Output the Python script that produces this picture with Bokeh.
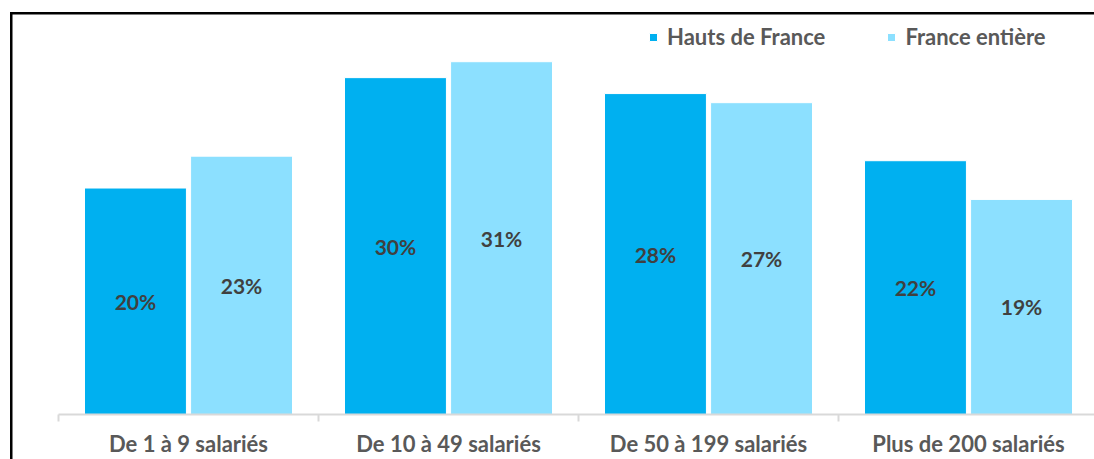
from bokeh.plotting import figure
from bokeh.models import (ColumnDataSource, Range1d, FixedTicker, LinearAxis,
                          Legend, LegendItem)
from bokeh.transform import dodge
from bokeh.core.properties import value
from bokeh.embed import file_html
from bokeh.resources import INLINE

# ---- data ----
categories = ["De 1 à 9 salariés", "De 10 à 49 salariés",
              "De 50 à 199 salariés", "Plus de 200 salariés"]
hauts_de_france = [19.9, 29.6, 28.2, 22.3]
france_entiere = [22.7, 31.0, 27.4, 18.9]
series_names = ["Hauts de France", "France entière"]
series_colors = ["#00B0F0", "#8CE0FF"]

FONT = "Lato"
pos = [i + 0.5 for i in range(len(categories))]
bounds = [float(i) for i in range(len(categories) + 1)]

src = ColumnDataSource(dict(
    x=pos,
    h=hauts_de_france,
    f=france_entiere,
    h_mid=[v / 2 for v in hauts_de_france],
    f_mid=[v / 2 for v in france_entiere],
    h_lab=[f"{round(v)}%" for v in hauts_de_france],
    f_lab=[f"{round(v)}%" for v in france_entiere],
))

x0, x1 = -0.1731, 3.9846
y1 = 35.06

# black frame lines (left and top) drawn as CSS backgrounds of the host element
border_css = ("linear-gradient(#000, #000) 10px 12px / 2.5px 100% no-repeat, "
              "linear-gradient(#000, #000) 10px 12px / 100% 2.5px no-repeat, #fff")

p = figure(width=1094, height=459, output_backend="svg", toolbar_location=None,
           x_range=Range1d(x0, x1), y_range=Range1d(0, y1),
           x_axis_location=None, y_axis_location=None,
           min_border_left=13, min_border_right=0, min_border_top=15,
           min_border_bottom=45,
           styles={"background": border_css})
p.outline_line_color = None
p.grid.visible = False
p.background_fill_color = "white"
p.border_fill_alpha = 0

off = 0.204
bw = 0.392
r_h = p.vbar(x=dodge("x", -off), top="h", width=bw, source=src,
             fill_color=series_colors[0], line_color="white", line_width=1)
r_f = p.vbar(x=dodge("x", off), top="f", width=bw, source=src,
             fill_color=series_colors[1], line_color="white", line_width=1)

for col_y, col_t, d in (("h_mid", "h_lab", -off), ("f_mid", "f_lab", off)):
    p.text(x=dodge("x", d), y=col_y, text=col_t, source=src,
           text_align="center", text_baseline="middle",
           text_font=value(FONT), text_font_style="bold",
           text_font_size="21px", text_color="#404040")

ax = LinearAxis(ticker=FixedTicker(ticks=pos, minor_ticks=bounds),
                bounds=(bounds[0], bounds[-1]),
                major_label_overrides={pos[i]: categories[i] for i in range(len(categories))},
                major_tick_line_color=None, major_tick_out=0, major_tick_in=0,
                minor_tick_out=7, minor_tick_in=0,
                minor_tick_line_color="#D9D9D9", minor_tick_line_width=2,
                axis_line_color="#D9D9D9", axis_line_width=2,
                major_label_standoff=8,
                major_label_text_font=FONT, major_label_text_font_style="bold",
                major_label_text_font_size="22px",
                major_label_text_color="#595959")
p.add_layout(ax, "below")

legend = Legend(items=[LegendItem(label=series_names[0], renderers=[r_h]),
                       LegendItem(label=series_names[1], renderers=[r_f])],
                orientation="horizontal", location=(635, 364),
                glyph_width=10, glyph_height=10, label_standoff=9, spacing=61,
                padding=0, margin=0, border_line_color=None,
                background_fill_alpha=0,
                label_text_font=FONT, label_text_font_style="bold",
                label_text_font_size="22px", label_text_color="#595959")
p.add_layout(legend)

open("out.html", "w").write(file_html(p, INLINE))
